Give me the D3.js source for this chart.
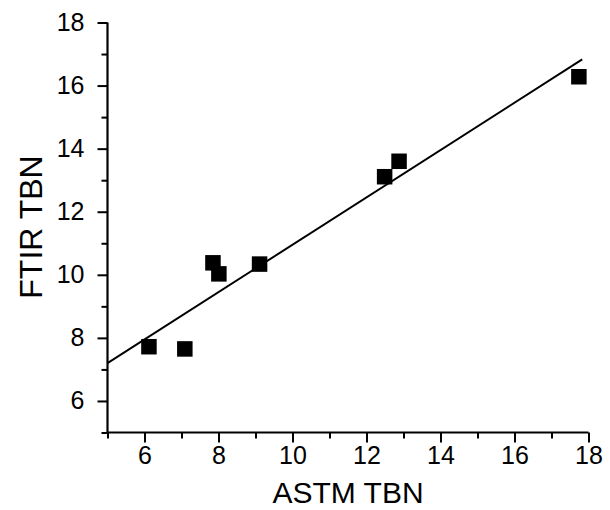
<!DOCTYPE html>
<html><head><meta charset="utf-8">
<script src="https://cdn.jsdelivr.net/npm/d3@7"></script>
<style>
body{margin:0;background:#fff;}
text{font-family:"Liberation Sans",Arial,sans-serif;fill:#000;}
</style></head>
<body><svg id="c" width="610" height="510"></svg>
<script>
const astm = [6.12, 7.09, 7.85, 8.01, 9.11, 12.49, 12.88, 17.74];
const ftir = [7.72, 7.65, 10.38, 10.03, 10.34, 13.11, 13.60, 16.28];
const fitX = [5, 17.83];
const fitY = [7.20, 16.83];
const xTicks = [6, 8, 10, 12, 14, 16, 18];
const yTicks = [6, 8, 10, 12, 14, 16, 18];
const xMinor = [5, 7, 9, 11, 13, 15, 17];
const yMinor = [5, 7, 9, 11, 13, 15, 17];
const xLabel = "ASTM TBN";
const yLabel = "FTIR TBN";

const svg = d3.select("#c");
const x = d3.scaleLinear().domain([5, 18]).range([107.5, 588.5]);
const y = d3.scaleLinear().domain([5, 18]).range([432.5, 22.5]);

const g = svg.append("g");
// minor ticks
g.append("g").attr("transform","translate(0,432.5)")
 .call(d3.axisBottom(x).tickValues(xMinor).tickSize(6).tickFormat(""))
 .call(a=>a.select(".domain").remove())
 .call(a=>a.selectAll("line").attr("stroke-width",2));
g.append("g").attr("transform","translate(107.5,0)")
 .call(d3.axisLeft(y).tickValues(yMinor).tickSize(6).tickFormat(""))
 .call(a=>a.select(".domain").remove())
 .call(a=>a.selectAll("line").attr("stroke-width",2));
// major
const xa = g.append("g").attr("transform","translate(0,432.5)")
 .call(d3.axisBottom(x).tickValues(xTicks).tickSize(10).tickSizeOuter(0).tickPadding(4));
xa.select(".domain").attr("stroke-width",2.2).attr("d","M107.5,0H588.5");
xa.selectAll("line").attr("stroke-width",2);
xa.selectAll("text").style("font-size","25px");
const ya = g.append("g").attr("transform","translate(107.5,0)")
 .call(d3.axisLeft(y).tickValues(yTicks).tickSize(10).tickSizeOuter(0).tickPadding(13));
ya.select(".domain").attr("stroke-width",2.2).attr("d","M0,432.5V22.5");
ya.selectAll("line").attr("stroke-width",2);
ya.selectAll("text").style("font-size","25px");

// fit line
g.append("line")
 .attr("x1",x(fitX[0])).attr("y1",y(fitY[0]))
 .attr("x2",x(fitX[1])).attr("y2",y(fitY[1]))
 .attr("stroke","#000").attr("stroke-width",2);

// points
const s = 15.5;
g.selectAll("rect.p").data(astm).join("rect").attr("class","p")
 .attr("x",(d)=>x(d)-s/2).attr("y",(d,i)=>y(ftir[i])-s/2)
 .attr("width",s).attr("height",s).attr("fill","#000");

svg.append("text").attr("x",348).attr("y",503).attr("text-anchor","middle")
 .style("font-size","30px").text(xLabel);
svg.append("text").attr("transform","translate(42,227) rotate(-90)").attr("text-anchor","middle")
 .style("font-size","32px").text(yLabel);
</script></body></html>
